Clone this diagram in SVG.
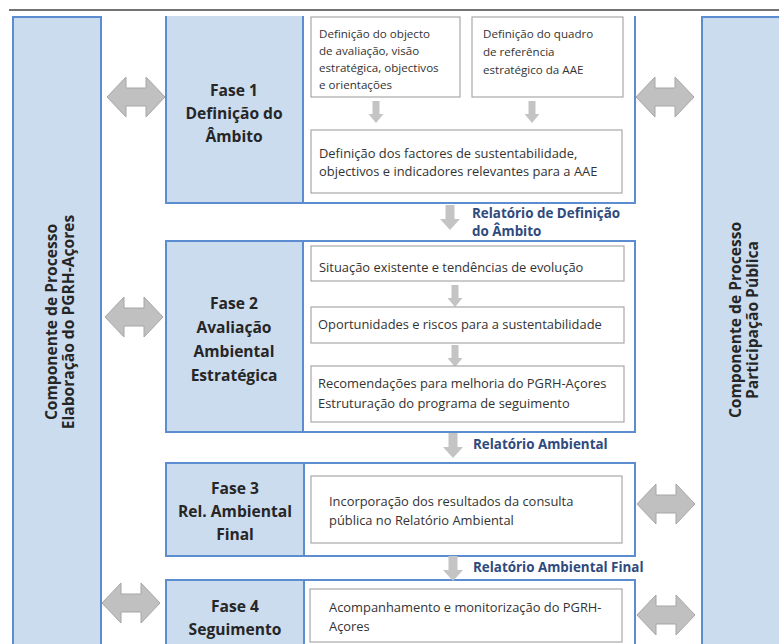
<svg xmlns="http://www.w3.org/2000/svg" xmlns:xlink="http://www.w3.org/1999/xlink" width="779" height="644" viewBox="0 0 779 644">
<defs>
<style>
.col{fill:#cbdcef;stroke:#5b8dd0;stroke-width:2}
.outer{fill:#ffffff;stroke:#5b8dd0;stroke-width:2}
.lab{fill:#cbdcef;stroke:#5b8dd0;stroke-width:2}
.sub{fill:#ffffff;stroke:#a8a8a8;stroke-width:1.2}
.arr{fill:#c0c0c0;stroke:#a6a6a6;stroke-width:1}
.sarr{fill:#c4c4c4}
.ph{font-family:"Open Sans","Noto Sans",sans-serif;font-weight:bold;font-size:15.6px;fill:#262626;text-anchor:middle}
.tx{font-family:"Open Sans","Noto Sans",sans-serif;font-size:11.6px;fill:#333333}
.tb{font-family:"Open Sans","Noto Sans",sans-serif;font-size:12.9px;fill:#333333}
.rel{font-family:"Open Sans","Noto Sans",sans-serif;font-weight:bold;font-size:13.4px;fill:#2f4a7d}
.colt{font-family:"Open Sans","Noto Sans",sans-serif;font-weight:bold;font-size:15.6px;fill:#262626;text-anchor:middle}
</style>
<path id="dbl" class="arr" d="M0,0 L19,-20 L19,-9 L39,-9 L39,-20 L58,0 L39,20 L39,9 L19,9 L19,20 Z"/>
<path id="sdown" class="sarr" d="M-3.5,0 H3.5 V13 H7.5 L0,22 L-7.5,13 H-3.5 Z"/>
<path id="bdown" class="sarr" d="M-4.5,0 H4.5 V14 H10 L0,25 L-10,14 H-4.5 Z"/>
</defs>
<rect width="779" height="644" fill="#ffffff"/>

<g id="col-left">
<rect class="col" x="13" y="17" width="88" height="640" stroke="none"/>
<line x1="13" y1="17" x2="13" y2="644" stroke="#5b8dd0" stroke-width="2"/>
<line x1="101" y1="17" x2="101" y2="644" stroke="#5b8dd0" stroke-width="2"/>
<text class="colt" transform="translate(57,322) rotate(-90)">Componente de Processo</text>
<text class="colt" transform="translate(74,322) rotate(-90)">Elaboração do PGRH-Açores</text>
</g>

<g id="col-right">
<rect class="col" x="702" y="17" width="90" height="640" stroke="none"/>
<line x1="702" y1="17" x2="702" y2="644" stroke="#5b8dd0" stroke-width="2"/>
<text class="colt" transform="translate(741,320) rotate(-90)">Componente de Processo</text>
<text class="colt" transform="translate(758,320) rotate(-90)">Participação Pública</text>
</g>

<g id="fase1">
<rect class="outer" x="166" y="-5" width="469" height="208"/>
<rect class="lab" x="166" y="-5" width="137" height="208"/>
<text class="ph" x="234" y="96">Fase 1</text>
<text class="ph" x="234" y="119">Definição do</text>
<text class="ph" x="234" y="142">Âmbito</text>
<rect class="sub" x="311" y="17" width="149" height="80"/>
<text class="tx" x="319" y="38">Definição do objecto</text>
<text class="tx" x="319" y="55">de avaliação, visão</text>
<text class="tx" x="319" y="72">estratégica, objectivos</text>
<text class="tx" x="319" y="89">e orientações</text>
<rect class="sub" x="472" y="17" width="151" height="80"/>
<text class="tx" x="483" y="38">Definição do quadro</text>
<text class="tx" x="483" y="56">de referência</text>
<text class="tx" x="483" y="74">estratégico da AAE</text>
<use xlink:href="#sdown" x="376" y="101"/>
<use xlink:href="#sdown" x="532" y="101"/>
<rect class="sub" x="311" y="130" width="311" height="63"/>
<text class="tb" x="319" y="158">Definição dos factores de sustentabilidade,</text>
<text class="tb" x="319" y="176">objectivos e indicadores relevantes para a AAE</text>
</g>

<rect x="0" y="0" width="779" height="16" fill="#ffffff"/>
<line x1="9" y1="10" x2="779" y2="10" stroke="#444444" stroke-width="1.3"/>

<g id="fase2">
<rect class="outer" x="166" y="241" width="469" height="191"/>
<rect class="lab" x="166" y="241" width="137" height="191"/>
<text class="ph" x="234" y="309">Fase 2</text>
<text class="ph" x="234" y="333">Avaliação</text>
<text class="ph" x="234" y="357">Ambiental</text>
<text class="ph" x="234" y="381">Estratégica</text>
<rect class="sub" x="311" y="246" width="313" height="35"/>
<text class="tb" x="319" y="272">Situação existente e tendências de evolução</text>
<use xlink:href="#sdown" x="455" y="285"/>
<rect class="sub" x="311" y="307" width="313" height="36"/>
<text class="tb" x="318" y="329">Oportunidades e riscos para a sustentabilidade</text>
<use xlink:href="#sdown" x="455" y="345"/>
<rect class="sub" x="311" y="366" width="313" height="56"/>
<text class="tb" x="318" y="388">Recomendações para melhoria do PGRH-Açores</text>
<text class="tb" x="318" y="408">Estruturação do programa de seguimento</text>
</g>

<g id="fase3">
<rect class="outer" x="166" y="463" width="469" height="93"/>
<rect class="lab" x="166" y="463" width="138" height="93"/>
<text class="ph" x="235" y="494">Fase 3</text>
<text class="ph" x="235" y="517">Rel. Ambiental</text>
<text class="ph" x="235" y="540">Final</text>
<rect class="sub" x="311" y="476" width="311" height="67"/>
<text class="tb" x="329" y="506">Incorporação dos resultados da consulta</text>
<text class="tb" x="329" y="525">pública no Relatório Ambiental</text>
</g>

<g id="fase4">
<rect class="outer" x="166" y="580" width="469" height="80"/>
<rect class="lab" x="166" y="580" width="138" height="80"/>
<text class="ph" x="235" y="612">Fase 4</text>
<text class="ph" x="235" y="635">Seguimento</text>
<rect class="sub" x="310" y="589" width="312" height="53"/>
<text class="tb" x="329" y="612">Acompanhamento e monitorização do PGRH-</text>
<text class="tb" x="329" y="631">Açores</text>
</g>

<g id="connectors">
<use xlink:href="#dbl" x="107" y="97"/>
<use xlink:href="#dbl" x="636" y="97"/>
<use xlink:href="#dbl" x="105" y="317"/>
<use xlink:href="#dbl" x="637" y="504"/>
<use xlink:href="#dbl" x="102" y="603"/>
<use xlink:href="#dbl" x="637" y="615"/>
<use xlink:href="#bdown" x="450" y="205"/>
<use xlink:href="#bdown" x="453" y="433"/>
<use xlink:href="#bdown" x="453" y="556"/>
</g>

<g id="labels">
<text class="rel" x="472" y="218">Relatório de Definição</text>
<text class="rel" x="472" y="236">do Âmbito</text>
<text class="rel" x="473" y="449">Relatório Ambiental</text>
<text class="rel" x="473" y="572">Relatório Ambiental Final</text>
</g>
</svg>
